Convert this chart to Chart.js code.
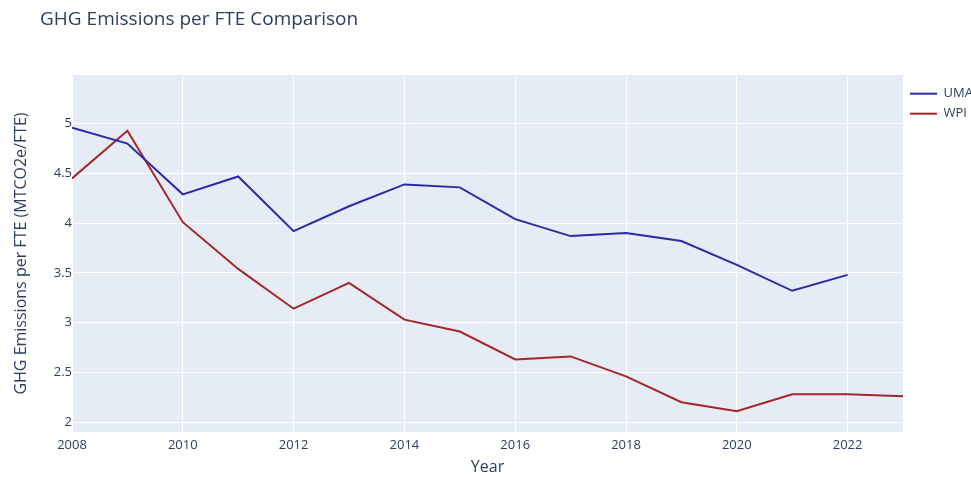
<!DOCTYPE html>
<html>
<head>
<meta charset="utf-8">
<script src="https://cdn.jsdelivr.net/npm/chart.js@4"></script>
<style>
  body { margin: 0; background: #fff; }
  #wrap { width: 971px; height: 477px; }
</style>
</head>
<body>
<div id="wrap"><canvas id="ghgChart"></canvas></div>
<script>
const years = [2008, 2009, 2010, 2011, 2012, 2013, 2014, 2015, 2016, 2017, 2018, 2019, 2020, 2021, 2022, 2023];
const umaValues = [4.96, 4.80, 4.29, 4.47, 3.92, 4.17, 4.39, 4.36, 4.04, 3.87, 3.90, 3.82, 3.58, 3.32, 3.48];
const wpiValues = [4.45, 4.93, 4.01, 3.54, 3.14, 3.40, 3.03, 2.91, 2.63, 2.66, 2.46, 2.20, 2.11, 2.28, 2.28, 2.26];
const seriesNames = ["UMA", "WPI"];

const textColor = "#2a3f5f";
const fontFamily = "'Open Sans', 'Liberation Sans', Arial, sans-serif";

function toPoints(values) {
    return values.map((v, i) => ({ x: years[i], y: v }));
}

// plotly-like blue-grey plot background
const plotBackground = {
    id: "plotBackground",
    beforeDraw(chart) {
        const { ctx, chartArea } = chart;
        ctx.save();
        ctx.fillStyle = "#E5ECF6";
        ctx.fillRect(chartArea.left, chartArea.top, chartArea.right - chartArea.left, chartArea.bottom - chartArea.top);
        ctx.restore();
    }
};

const titleText = {
    id: "titleText",
    afterDraw(chart) {
        const ctx = chart.ctx;
        ctx.save();
        ctx.fillStyle = textColor;
        ctx.font = "19px " + fontFamily;
        ctx.textBaseline = "middle";
        ctx.fillText("GHG Emissions per FTE Comparison", 40, 20);
        ctx.restore();
    }
};

const ctx = document.getElementById("ghgChart").getContext("2d");

const chart = new Chart(ctx, {
    type: "line",
    data: {
        datasets: [{
            label: seriesNames[0],
            data: toPoints(umaValues),
            borderColor: "rgb(42, 42, 165)",
            backgroundColor: "rgb(42, 42, 165)",
            borderWidth: 2,
            pointRadius: 0,
            tension: 0
        }, {
            label: seriesNames[1],
            data: toPoints(wpiValues),
            borderColor: "rgb(165, 38, 38)",
            backgroundColor: "rgb(165, 38, 38)",
            borderWidth: 2,
            pointRadius: 0,
            tension: 0
        }]
    },
    options: {
        responsive: true,
        maintainAspectRatio: false,
        animation: false,
        layout: {
            padding: { top: 75, right: 0, left: 0, bottom: 0 }
        },
        plugins: {
            legend: {
                position: "right",
                align: "start",
                title: {
                    display: true,
                    text: " ",
                    font: { size: 1 },
                    padding: { top: 0, bottom: 4 }
                },
                labels: {
                    usePointStyle: true,
                    pointStyle: "line",
                    pointStyleWidth: 27,
                    color: textColor,
                    font: { family: fontFamily, size: 13 },
                    padding: 7
                }
            },
            tooltip: { enabled: false }
        },
        scales: {
            x: {
                type: "linear",
                min: 2008,
                max: 2023,
                afterFit(scale) { scale.height = 45; },
                border: { display: false },
                grid: { color: "#ffffff", lineWidth: 1, drawTicks: false },
                ticks: {
                    stepSize: 2,
                    includeBounds: false,
                    color: textColor,
                    font: { family: fontFamily, size: 13 },
                    padding: 5,
                    maxRotation: 0,
                    callback: (v) => String(v)
                },
                title: {
                    display: true,
                    text: "Year",
                    color: textColor,
                    font: { family: fontFamily, size: 16 },
                    padding: 0
                }
            },
            y: {
                min: 1.9,
                max: 5.49,
                afterFit(scale) { scale.width = 72; },
                border: { display: false },
                grid: { color: "#ffffff", lineWidth: 1, drawTicks: false },
                ticks: {
                    stepSize: 0.5,
                    includeBounds: false,
                    color: textColor,
                    font: { family: fontFamily, size: 13 },
                    padding: 0,
                    callback: (v) => String(v)
                },
                title: {
                    display: true,
                    text: "GHG Emissions per FTE (MTCO2e/FTE)",
                    color: textColor,
                    font: { family: fontFamily, size: 16 },
                    padding: { top: 12, bottom: 0 }
                }
            }
        }
    },
    plugins: [plotBackground, titleText]
});

// keep the legend column narrow so the plot reaches x ~ 903 like the original
const legendFit = chart.legend.fit;
chart.legend.fit = function () {
    legendFit.call(this);
    this.width = 68;
};
chart.update();
</script>
</body>
</html>
